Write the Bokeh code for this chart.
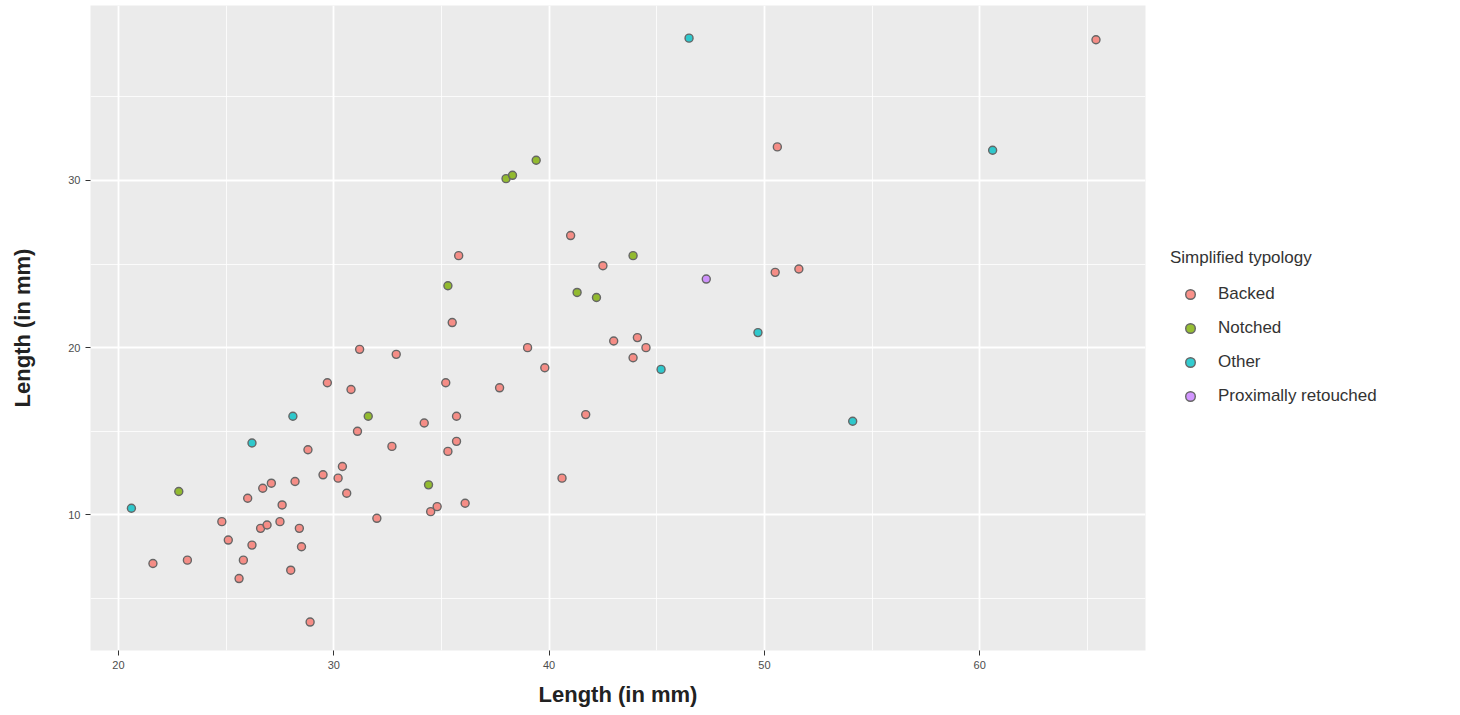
from bokeh.plotting import figure
from bokeh.models import FixedTicker, Legend, LegendItem, ColumnDataSource, Range1d
from bokeh.embed import file_html
from bokeh.resources import INLINE

# ---- data ----
length_x = [20.6, 22.8, 21.6, 23.2, 24.8, 25.1, 25.6, 25.8, 26.0, 26.2,
            26.2, 26.7, 27.1, 26.6, 26.9, 27.6, 27.5, 28.1, 28.2, 28.0,
            28.4, 28.5, 28.8, 28.9, 29.5, 29.7, 30.2, 30.4, 30.6, 30.8,
            31.1, 31.2, 31.6, 32.0, 32.7, 32.9, 34.2, 34.4, 34.5, 34.8,
            35.2, 35.3, 35.5, 35.3, 35.7, 35.7, 35.8, 36.1, 37.7, 38.0,
            38.3, 39.4, 39.0, 39.8, 40.6, 41.0, 41.3, 41.7, 42.2, 42.5,
            43.0, 43.9, 43.9, 44.1, 44.5, 45.2, 46.5, 47.3, 49.7, 50.5,
            50.6, 51.6, 54.1, 60.6, 65.4]
length_y = [10.4, 11.4, 7.1, 7.3, 9.6, 8.5, 6.2, 7.3, 11.0, 14.3,
            8.2, 11.6, 11.9, 9.2, 9.4, 10.6, 9.6, 15.9, 12.0, 6.7,
            9.2, 8.1, 13.9, 3.6, 12.4, 17.9, 12.2, 12.9, 11.3, 17.5,
            15.0, 19.9, 15.9, 9.8, 14.1, 19.6, 15.5, 11.8, 10.2, 10.5,
            17.9, 23.7, 21.5, 13.8, 14.4, 15.9, 25.5, 10.7, 17.6, 30.1,
            30.3, 31.2, 20.0, 18.8, 12.2, 26.7, 23.3, 16.0, 23.0, 24.9,
            20.4, 25.5, 19.4, 20.6, 20.0, 18.7, 38.5, 24.1, 20.9, 24.5,
            32.0, 24.7, 15.6, 31.8, 38.4]
typology = ["Other", "Notched", "Backed", "Backed", "Backed", "Backed", "Backed", "Backed", "Backed", "Other",
            "Backed", "Backed", "Backed", "Backed", "Backed", "Backed", "Backed", "Other", "Backed", "Backed",
            "Backed", "Backed", "Backed", "Backed", "Backed", "Backed", "Backed", "Backed", "Backed", "Backed",
            "Backed", "Backed", "Notched", "Backed", "Backed", "Backed", "Backed", "Notched", "Backed", "Backed",
            "Backed", "Notched", "Backed", "Backed", "Backed", "Backed", "Backed", "Backed", "Backed", "Notched",
            "Notched", "Notched", "Backed", "Backed", "Backed", "Backed", "Notched", "Backed", "Notched", "Backed",
            "Backed", "Notched", "Backed", "Backed", "Backed", "Other", "Other", "Proximally retouched", "Other", "Backed",
            "Backed", "Backed", "Other", "Other", "Backed"]
categories = ["Backed", "Notched", "Other", "Proximally retouched"]
palette = ["#F8766D", "#7CAE00", "#00BFC4", "#C77CFF"]
x_ticks = [20, 30, 40, 50, 60]
y_ticks = [10, 20, 30]

FONT = "Liberation Sans"

p = figure(frame_width=1055, frame_height=645, output_backend="svg", toolbar_location=None,
           x_range=Range1d(18.7, 67.7), y_range=Range1d(1.9, 40.45),
           background_fill_color="#EBEBEB", border_fill_color="white",
           min_border_left=90, min_border_top=5, min_border_bottom=65, min_border_right=0)
p.outline_line_color = None

p.xaxis.ticker = FixedTicker(ticks=x_ticks, minor_ticks=[15, 25, 35, 45, 55, 65])
p.yaxis.ticker = FixedTicker(ticks=y_ticks, minor_ticks=[5, 15, 25, 35])
p.xgrid.ticker = p.xaxis.ticker
p.ygrid.ticker = p.yaxis.ticker
for g in (p.xgrid, p.ygrid):
    g.grid_line_color = "white"
    g.grid_line_width = 1.8
    g.minor_grid_line_color = "white"
    g.minor_grid_line_width = 0.8

for ax in (p.xaxis, p.yaxis):
    ax.axis_line_color = None
    ax.major_tick_line_color = "#333333"
    ax.major_tick_in = 0
    ax.major_tick_out = 5
    ax.minor_tick_line_color = None
    ax.major_label_text_font = FONT
    ax.major_label_text_font_size = "11px"
    ax.major_label_text_color = "#4D4D4D"
    ax.axis_label_text_font = FONT
    ax.axis_label_text_font_size = "22px"
    ax.axis_label_text_font_style = "bold"
    ax.axis_label_text_color = "#222222"
p.xaxis.axis_label = "Length (in mm)"
p.yaxis.axis_label = "Length (in mm)"
p.xaxis.axis_label_standoff = 10
p.yaxis.axis_label_standoff = 30

items = []
for cat, col in zip(categories, palette):
    idx = [i for i, t in enumerate(typology) if t == cat]
    src = ColumnDataSource(dict(x=[length_x[i] for i in idx], y=[length_y[i] for i in idx]))
    r = p.scatter("x", "y", source=src, size=8, fill_color=col, fill_alpha=0.8,
                  line_color="#666666", line_width=1.4)
    items.append(LegendItem(label=cat, renderers=[r]))

legend = Legend(items=items, title="Simplified typology", location="left",
                border_line_color=None, background_fill_alpha=0,
                margin=25, padding=10, glyph_width=40, glyph_height=24, spacing=10,
                label_standoff=8, title_standoff=14)
legend.title_text_font = FONT
legend.title_text_font_size = "17px"
legend.title_text_font_style = "normal"
legend.title_text_color = "#333333"
legend.label_text_font = FONT
legend.label_text_font_size = "17px"
legend.label_text_color = "#333333"
p.add_layout(legend, "right")

open("out.html", "w").write(file_html(p, INLINE))
